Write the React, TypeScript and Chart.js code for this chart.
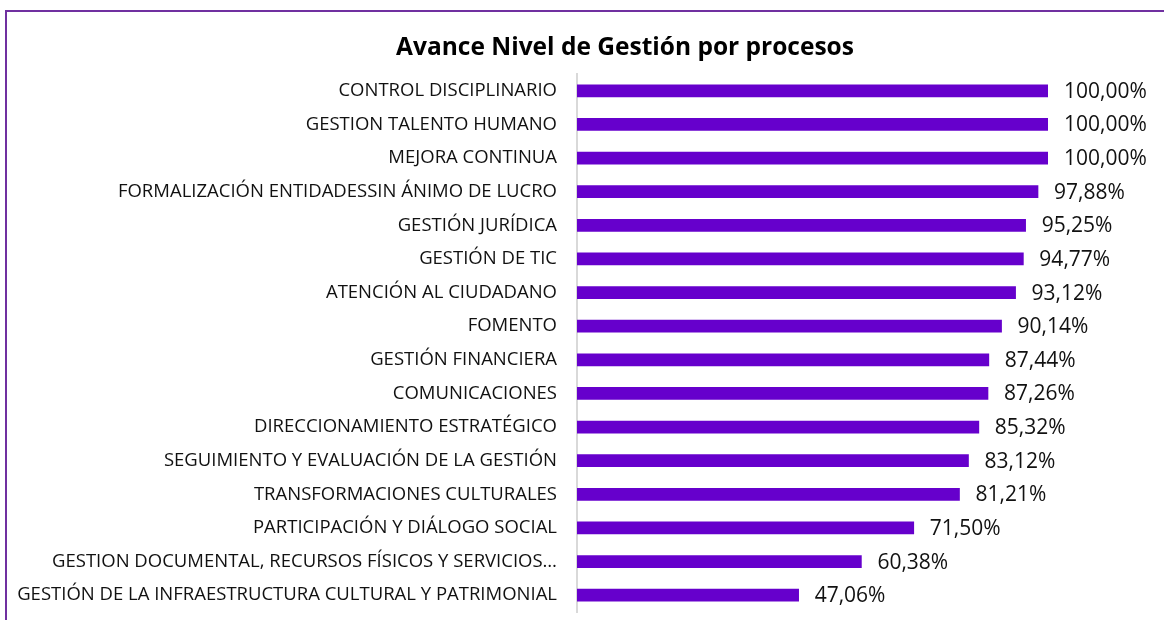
import React, { useEffect, useRef } from "react";
import { Chart, registerables } from "chart.js";

Chart.register(...registerables);

const categories: string[] = [
  "CONTROL DISCIPLINARIO",
  "GESTION TALENTO HUMANO",
  "MEJORA CONTINUA",
  "FORMALIZACIÓN ENTIDADESSIN ÁNIMO DE LUCRO",
  "GESTIÓN JURÍDICA",
  "GESTIÓN DE TIC",
  "ATENCIÓN AL CIUDADANO",
  "FOMENTO",
  "GESTIÓN FINANCIERA",
  "COMUNICACIONES",
  "DIRECCIONAMIENTO ESTRATÉGICO",
  "SEGUIMIENTO Y EVALUACIÓN DE LA GESTIÓN",
  "TRANSFORMACIONES CULTURALES",
  "PARTICIPACIÓN Y DIÁLOGO SOCIAL",
  "GESTION DOCUMENTAL, RECURSOS FÍSICOS Y SERVICIOS…",
  "GESTIÓN DE LA INFRAESTRUCTURA CULTURAL Y PATRIMONIAL",
];

const values: number[] = [
  100.0, 100.0, 100.0, 97.88, 95.25, 94.77, 93.12, 90.14, 87.44, 87.26, 85.32,
  83.12, 81.21, 71.5, 60.38, 47.06,
];

const titleText = "Avance Nivel de Gestión por procesos";

const fmt = (v: number) => v.toFixed(2).replace(".", ",") + "%";

const labelPlugin = {
  id: "barLabels",
  afterDatasetsDraw(chart: any) {
    const ctx = chart.ctx;
    const meta = chart.getDatasetMeta(0);
    ctx.save();
    ctx.font = "21px 'Open Sans'";
    ctx.fillStyle = "#111";
    ctx.textAlign = "left";
    ctx.textBaseline = "middle";
    meta.data.forEach((bar: any, i: number) => {
      ctx.fillText(fmt(values[i]), bar.x + 16, bar.y + 1);
    });
    ctx.restore();
  },
};

const titlePlugin = {
  id: "customTitle",
  afterDraw(chart: any) {
    const ctx = chart.ctx;
    ctx.save();
    ctx.font = "bold 24.5px 'Open Sans'";
    ctx.fillStyle = "#000";
    ctx.textAlign = "center";
    ctx.textBaseline = "middle";
    ctx.fillText(titleText, 625, 48);
    ctx.restore();
  },
};

export default function App() {
  const ref = useRef<HTMLCanvasElement>(null);
  useEffect(() => {
    if (!ref.current) return;
    const chart = new Chart(ref.current, {
      type: "bar",
      data: {
        labels: categories,
        datasets: [
          {
            data: values,
            backgroundColor: "#6600CC",
            barThickness: 12,
          },
        ],
      },
      options: {
        indexAxis: "y",
        animation: false,
        responsive: false,
        maintainAspectRatio: false,
        layout: { padding: { left: 0, right: 202, top: 74, bottom: 8 } },
        plugins: {
          legend: { display: false },
          tooltip: { enabled: false },
          title: { display: false },
        },
        scales: {
          x: { display: false, min: 0, max: 100 },
          y: {
            afterFit(scale: any) {
              scale.width = 577;
              scale.paddingTop = 0;
              scale.paddingBottom = 0;
            },
            grid: { drawOnChartArea: false, drawTicks: false, color: "transparent" },
            border: { display: true, color: "#d9d9d9", width: 2 },
            ticks: {
              color: "#111",
              padding: 20,
              font: { family: "Open Sans", size: 18.5 },
              autoSkip: false,
            },
          },
        },
      },
      plugins: [labelPlugin, titlePlugin],
    });
    return () => chart.destroy();
  }, []);

  return (
    <div
      style={{
        position: "fixed",
        left: 0,
        top: 0,
        width: 1164,
        height: 620,
        overflow: "hidden",
        background: "#fff",
      }}
    >
      <div
        style={{
          position: "absolute",
          left: 5,
          top: 10,
          width: 1300,
          height: 700,
          borderLeft: "2px solid #7030A0",
          borderTop: "2px solid #7030A0",
        }}
      />
      <canvas
        ref={ref}
        width={1250}
        height={620}
        style={{ position: "absolute", left: 0, top: 0, width: 1250, height: 620 }}
      />
    </div>
  );
}
